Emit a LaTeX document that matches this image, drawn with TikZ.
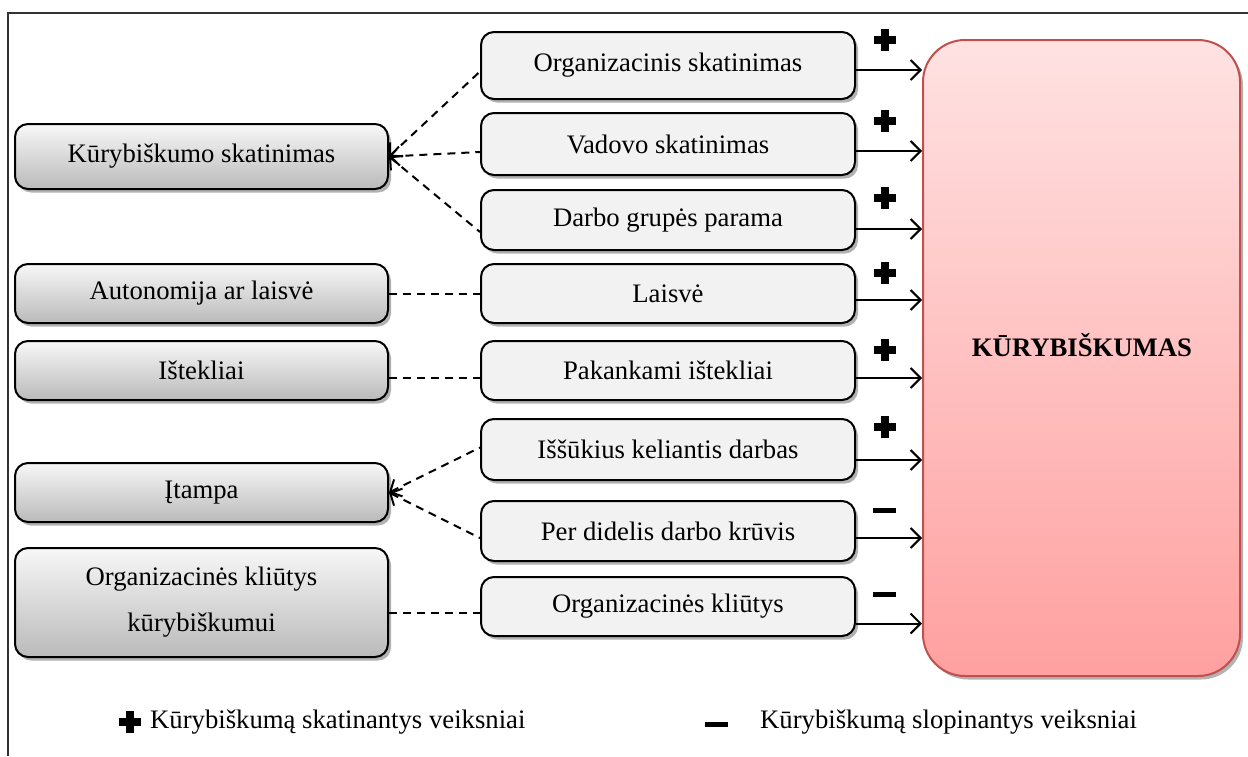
\documentclass[tikz,border=0pt]{standalone}
\usepackage{fontspec}
\setmainfont{Liberation Serif}
\usetikzlibrary{arrows.meta,shadows}
\definecolor{bigtop}{HTML}{FFE2E2}
\definecolor{bigbot}{HTML}{FFA0A0}
\definecolor{bigedge}{HTML}{C0504D}
\begin{document}
\begin{tikzpicture}[x=1pt,y=-1pt,
  every node/.style={font=\fontsize{26.7}{30}\selectfont},
  shadowed/.style={drop shadow={shadow xshift=3pt,shadow yshift=-3.5pt,opacity=0.3,fill=black}},
  leftbox/.style={draw=black,line width=2pt,rounded corners=13pt,top color=black!3,bottom color=black!27,minimum width=373pt,inner sep=0pt,align=center,shadowed},
  midbox/.style={draw=black,line width=2pt,rounded corners=13pt,fill=black!5,minimum width=374pt,inner sep=0pt,shadowed},
  bigbox/.style={draw=bigedge,line width=2pt,rounded corners=42pt,top color=bigtop,bottom color=bigbot,minimum width=317pt,minimum height=636pt,shadowed},
  dashlink/.style={line width=2pt,dash pattern=on 8pt off 6pt},
  convlink/.style={dashlink,{Straight Barb[length=9pt,width=19pt,line width=2pt]}-},
  arrowlink/.style={line width=2pt,-{Straight Barb[length=10pt,width=20pt,line width=2pt]}},
  plusmark/.pic={\fill (-11,-4.3) rectangle (11,4.3); \fill (-4.3,-11) rectangle (4.3,11);},
  minusmark/.pic={\fill (-11.5,-2.5) rectangle (11.5,2.5);}
]
\useasboundingbox (0,0) rectangle (1248,756);
\draw[line width=1.2pt,black!80] (8,756) -- (8,13) -- (1248,13);

% big box
\node[bigbox] (B) at (1081.5,358) {};
\node[font=\fontsize{26.7}{30}\selectfont\bfseries] (btext) at (1082,345) {KŪRYBIŠKUMAS};

% left boxes
\node[leftbox,minimum height=65pt] (L1) at (201.5,156.5) {Kūrybiškumo skatinimas};
\node[leftbox,minimum height=59pt] (L2) at (201.5,293.5) {Autonomija ar laisvė};
\node[leftbox,minimum height=59pt] (L3) at (201.5,370.5) {Ištekliai};
\node[leftbox,minimum height=59pt] (L4) at (201.5,492.5) {Įtampa};
\node[leftbox,minimum height=109pt,font=\fontsize{26.7}{46}\selectfont] (L5) at (201.5,602.5) {Organizacinės kliūtys\\kūrybiškumui};

% middle boxes
\node[midbox,minimum height=67pt] (M1) at (668,65.5) {Organizacinis skatinimas};
\node[midbox,minimum height=62pt] (M2) at (668,144) {Vadovo skatinimas};
\node[midbox,minimum height=60pt] (M3) at (668,220) {Darbo grupės parama};
\node[midbox,minimum height=59pt] (M4) at (668,293.5) {Laisvė};
\node[midbox,minimum height=59pt] (M5) at (668,370.5) {Pakankami ištekliai};
\node[midbox,minimum height=61pt] (M6) at (668,449.5) {Iššūkius keliantis darbas};
\node[midbox,minimum height=60pt] (M7) at (668,531) {Per didelis darbo krūvis};
\node[midbox,minimum height=59pt] (M8) at (668,606.5) {Organizacinės kliūtys};

% dashed links
\draw[convlink] (L1.east) -- ([yshift=-6pt]M1.west);
\draw[convlink] (L1.east) -- ([yshift=-8pt]M2.west);
\draw[convlink] (L1.east) -- ([yshift=-12pt]M3.west);
\draw[dashlink] (L2.east) -- (M4.west);
\draw[dashlink] ([yshift=-7pt]L3.east) -- ([yshift=-7pt]M5.west);
\draw[convlink] (L4.east) -- ([yshift=2pt]M6.west);
\draw[convlink] (L4.east) -- ([yshift=-7pt]M7.west);
\draw[dashlink] ([yshift=-10pt]L5.east) -- ([yshift=-10pt]L5.east -| M8.west);

% arrows into big box
\draw[arrowlink] ([yshift=-4.5pt]M1.east) -- ([yshift=-4.5pt]M1.east -| B.west);
\draw[arrowlink] ([yshift=-7pt]M2.east) -- ([yshift=-7pt]M2.east -| B.west);
\draw[arrowlink] ([yshift=-9pt]M3.east) -- ([yshift=-9pt]M3.east -| B.west);
\draw[arrowlink] ([yshift=-6.5pt]M4.east) -- ([yshift=-6.5pt]M4.east -| B.west);
\draw[arrowlink] ([yshift=-7.5pt]M5.east) -- ([yshift=-7.5pt]M5.east -| B.west);
\draw[arrowlink] ([yshift=-10.5pt]M6.east) -- ([yshift=-10.5pt]M6.east -| B.west);
\draw[arrowlink] ([yshift=-7pt]M7.east) -- ([yshift=-7pt]M7.east -| B.west);
\draw[arrowlink] ([yshift=-17pt]M8.east) -- ([yshift=-17pt]M8.east -| B.west);

% signs
\pic at (885,40) {plusmark};
\pic at (885,121) {plusmark};
\pic at (885,198) {plusmark};
\pic at (885,273) {plusmark};
\pic at (885,350) {plusmark};
\pic at (885,427) {plusmark};
\pic at (884,510) {minusmark};
\pic at (884,594) {minusmark};

% legend
\pic at (130,722) {plusmark};
\node[anchor=west,inner sep=0pt] (leg1) at (150,722) {Kūrybiškumą skatinantys veiksniai};
\pic at (716,724) {minusmark};
\node[anchor=west,inner sep=0pt] (leg2) at (760,722) {Kūrybiškumą slopinantys veiksniai};
\end{tikzpicture}
\end{document}
